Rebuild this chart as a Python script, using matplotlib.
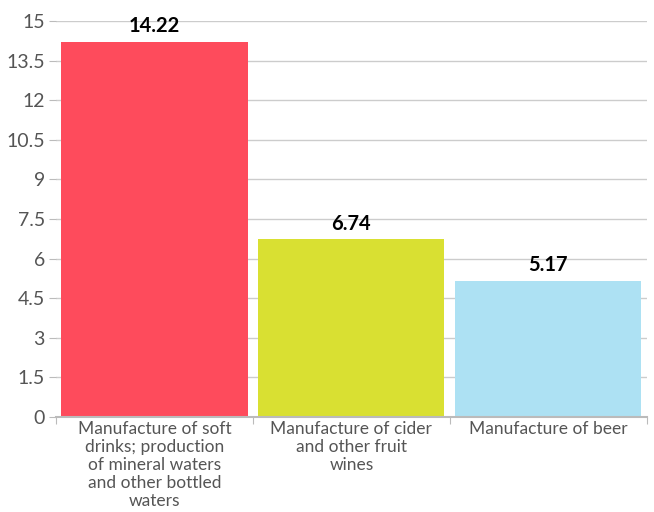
import matplotlib.pyplot as plt
import numpy as np

categories = ["Manufacture of soft\ndrinks; production\nof mineral waters\nand other bottled\nwaters",
              "Manufacture of cider\nand other fruit\nwines",
              "Manufacture of beer"]
values = [14.22, 6.74, 5.17]
colors = ["#fe4b5c", "#d9e032", "#ade1f3"]
yticks = [0, 1.5, 3, 4.5, 6, 7.5, 9, 10.5, 12, 13.5, 15]
ylabels = ["0", "1.5", "3", "4.5", "6", "7.5", "9", "10.5", "12", "13.5", "15"]

plt.rcParams['font.family'] = ['Lato', 'DejaVu Sans']

fig = plt.figure(figsize=(6.54, 5.12), dpi=100)
ax = fig.add_axes([0.0856, 0.1855, 0.9034, 0.7735])

x = np.arange(len(values))
ax.bar(x, values, width=0.945, color=colors, zorder=2)
for xi, v in zip(x, values):
    ax.text(xi, v + 0.2, f"{v:.2f}", ha="center", va="bottom",
            fontsize=14.5, fontweight="bold", color="black")

ax.set_xlim(-0.5, 2.5)
ax.set_ylim(0, 15)
ax.set_yticks(yticks)
ax.set_yticklabels(ylabels, fontsize=14, color="#555555")
ax.yaxis.grid(True, color="#cccccc", linewidth=1)
ax.set_axisbelow(True)

ax.set_xticks([-0.5, 0.5, 1.5, 2.5])
ax.set_xticklabels([])
ax.set_xticks(x, minor=True)
ax.set_xticklabels(categories, minor=True, fontsize=12.5, color="#555555", linespacing=1.15)
ax.tick_params(axis="x", which="minor", length=0, pad=3)
ax.tick_params(axis="x", which="major", length=5, color="#bbbbbb")
ax.tick_params(axis="y", length=5, color="#bbbbbb", pad=3)

for s in ["top", "right"]:
    ax.spines[s].set_visible(False)
ax.spines["left"].set_visible(False)
ax.spines["bottom"].set_color("#bbbbbb")
ax.spines["bottom"].set_linewidth(1.5)

fig.savefig("out.png", dpi=100)
